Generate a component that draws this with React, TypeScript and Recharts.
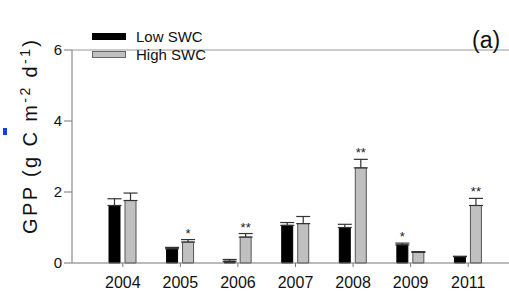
import { BarChart, Bar, XAxis, YAxis, ErrorBar, Legend, LabelList, ReferenceLine } from "recharts";

const years = ["2004", "2005", "2006", "2007", "2008", "2009", "2011"];
const lowSwc = [1.62, 0.4, 0.05, 1.06, 1.0, 0.51, 0.18];
const lowErr = [0.19, 0.04, 0.05, 0.08, 0.09, 0.05, 0.01];
const lowSig = ["", "", "", "", "", "*", ""];
const highSwc = [1.76, 0.59, 0.73, 1.11, 2.68, 0.3, 1.62];
const highErr = [0.21, 0.07, 0.1, 0.2, 0.24, 0.02, 0.2];
const highSig = ["", "*", "**", "", "**", "", "**"];
const yTicks = [0, 2, 4, 6];

const data = years.map((year, i) => ({
  year,
  low: lowSwc[i],
  lowE: [0, lowErr[i]],
  lowS: lowSig[i],
  high: highSwc[i],
  highE: [0, highErr[i]],
  highS: highSig[i],
}));

const font = "'Liberation Sans', Arial, sans-serif";

// star above the error bar, using the bar's own px-per-unit
function starLabel(errs: number[], vals: number[]) {
  return (props: any) => {
    const { x, y, width, height, value, index } = props;
    if (!value) return null;
    const perUnit = vals[index] ? height / vals[index] : 0;
    const top = y - errs[index] * perUnit;
    return (
      <text x={x + width / 2} y={top - 2} textAnchor="middle" fontSize={13} fill="#222" fontFamily={font}>
        {value}
      </text>
    );
  };
}

function LegendBox() {
  const item = (fill: string, stroke: string, label: string) => (
    <div style={{ display: "flex", alignItems: "center", height: 18.5 }}>
      <div style={{ width: 32, height: 5, background: fill, border: `1px solid ${stroke}` }} />
      <span style={{ marginLeft: 10, fontSize: 15, color: "#111" }}>{label}</span>
    </div>
  );
  return (
    <div style={{ fontFamily: font }}>
      {item("#000", "#000", "Low SWC")}
      {item("#c0c0c0", "#666", "High SWC")}
    </div>
  );
}

function YLabel() {
  return (
    <text
      transform="translate(37,137) rotate(-90)"
      textAnchor="middle"
      fontSize={20}
      fill="#111"
      fontFamily={font}
      textLength={194}
      lengthAdjust="spacing"
    >
      GPP (g C m<tspan dy={-7} fontSize={14}>-2</tspan>
      <tspan dy={7}> d</tspan>
      <tspan dy={-7} fontSize={14}>-1</tspan>
      <tspan dy={7}>)</tspan>
    </text>
  );
}

export default function App() {
  return (
    <div style={{ position: "fixed", left: 0, top: 0, width: 509, height: 296, background: "#fff" }}>
      <BarChart
        width={509}
        height={296}
        data={data}
        margin={{ top: 13, right: 0, left: 0, bottom: 0 }}
        barSize={11}
        barGap={5}
      >
        <XAxis
          dataKey="year"
          height={33}
          padding={{ left: 22, right: 12 }}
          stroke="#777"
          tickSize={4}
          tickMargin={10}
          tick={{ fill: "#111", fontSize: 16, fontFamily: font }}
        />
        <YAxis
          width={72}
          domain={[0, 6]}
          ticks={yTicks}
          stroke="#777"
          tickSize={8}
          tickMargin={2}
          tick={{ fill: "#111", fontSize: 15, fontFamily: font }}
          label={<YLabel />}
        />
        <ReferenceLine y={6} stroke="#999" />
        <Legend
          verticalAlign="top"
          align="left"
          content={<LegendBox />}
          wrapperStyle={{ left: 92, top: 27, width: 160 }}
        />
        <Bar dataKey="low" fill="#000" stroke="#000" isAnimationActive={false}>
          <ErrorBar dataKey="lowE" width={7} stroke="#333" strokeWidth={1.2} isAnimationActive={false} />
          <LabelList dataKey="lowS" content={starLabel(lowErr, lowSwc)} />
        </Bar>
        <Bar dataKey="high" fill="#c0c0c0" stroke="#555" isAnimationActive={false}>
          <ErrorBar dataKey="highE" width={7} stroke="#333" strokeWidth={1.2} isAnimationActive={false} />
          <LabelList dataKey="highS" content={starLabel(highErr, highSwc)} />
        </Bar>
      </BarChart>
      <div style={{ position: "absolute", left: 472, top: 29, fontSize: 23, lineHeight: 1, fontFamily: font, color: "#111" }}>(a)</div>
      <div style={{ position: "absolute", left: 3, top: 128, width: 4, height: 7, background: "#1a3cf0" }} />
    </div>
  );
}
